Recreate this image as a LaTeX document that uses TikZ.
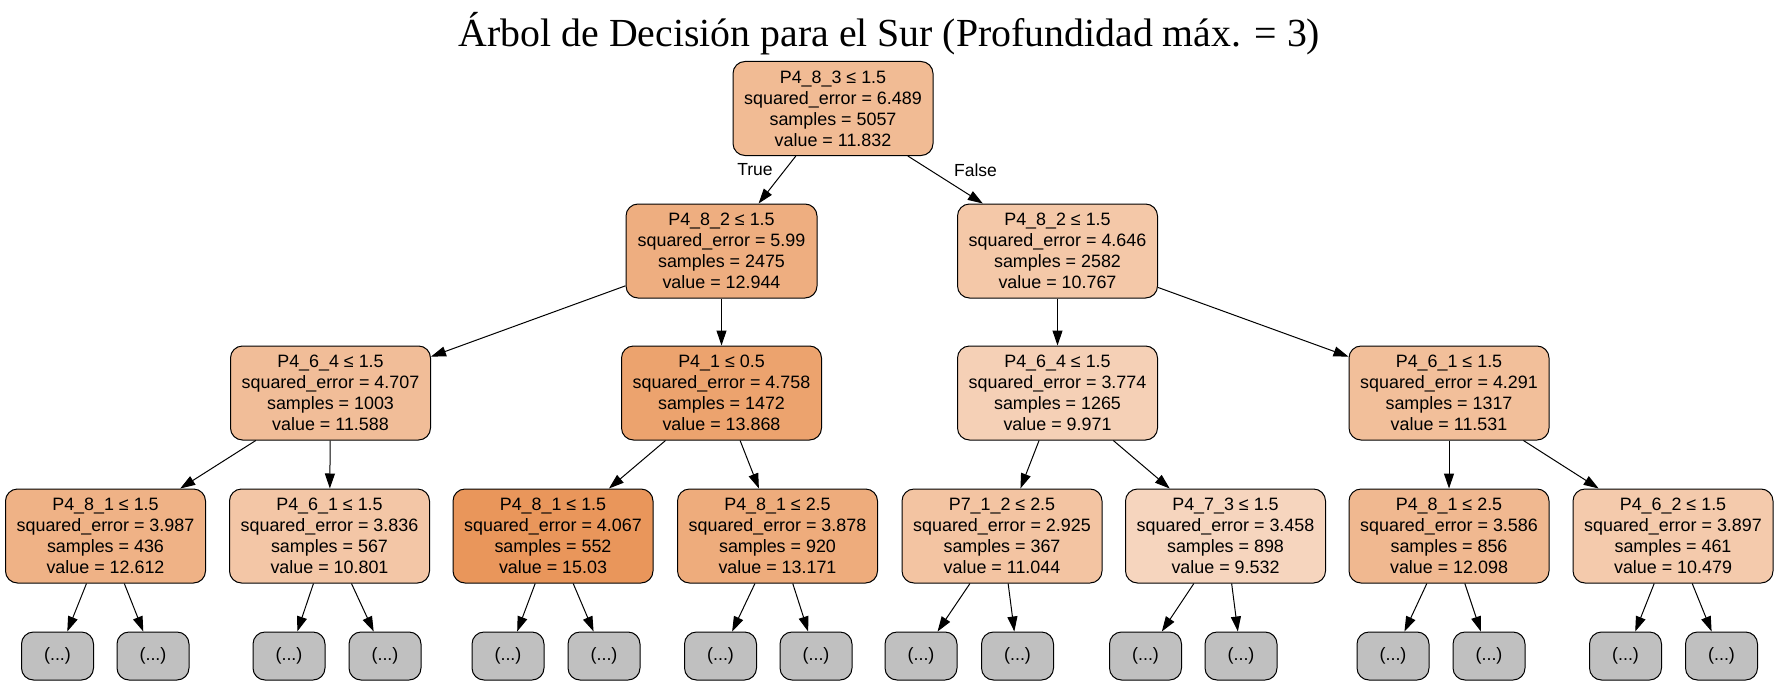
\documentclass[tikz,border=0pt]{standalone}
\usepackage{fontspec}
\setmainfont{Liberation Sans}
\newfontfamily\titlefont{Liberation Serif}
\usetikzlibrary{arrows.meta}

% node fill: base orange blended with white by the node's value
\definecolor{splitbase}{RGB}{229,129,57}
\definecolor{leafgray}{RGB}{192,192,192}

\tikzset{
  treenode/.style={draw=black, line width=1pt, rounded corners=12pt,
    minimum width=200pt, minimum height=94pt, inner sep=0pt, align=center,
    font=\fontsize{17.9}{21}\selectfont},
  leafnode/.style={draw=black, fill=leafgray, line width=1pt, rounded corners=12pt,
    minimum width=72pt, minimum height=48pt, inner sep=0pt,
    font=\fontsize{17.9}{21}\selectfont},
  branch/.style={-{Triangle[length=15pt,width=10pt]}, line width=1pt},
  edgelabel/.style={font=\fontsize{17.5}{21}\selectfont, inner sep=0pt}
}

% #1 name, #2 x, #3 y, #4 fill strength, #5 test, #6 error, #7 samples, #8 value
\newcommand\treesplit[8]{%
  \node[treenode, fill=splitbase!#4!white] (#1) at (#2,#3)
    {#5\\squared\_error = #6\\samples = #7\\value = #8};}

\begin{document}
\begin{tikzpicture}[x=1pt, y=-1pt]
\useasboundingbox (0,0) rectangle (1779,685);

\node[font=\titlefont\fontsize{39.8}{42}\selectfont, anchor=base, inner sep=0pt] (title)
  at (889.5,47) {Árbol de Decisión para el Sur (Profundidad máx. = 3)};

% depth 0
\treesplit{root}{833}{108.5}{54}{P4\_8\_3 ≤ 1.5}{6.489}{5057}{11.832}
% depth 1 (the left one has a shorter label, hence a narrower box)
\node[treenode, minimum width=191pt, fill=splitbase!64!white] (na) at (721.5,251)
  {P4\_8\_2 ≤ 1.5\\squared\_error = 5.99\\samples = 2475\\value = 12.944};
\treesplit{nb}{1057.5}{251}{44}{P4\_8\_2 ≤ 1.5}{4.646}{2582}{10.767}
% depth 2
\treesplit{naa}{330.5}{393}{52}{P4\_6\_4 ≤ 1.5}{4.707}{1003}{11.588}
\treesplit{nab}{721.5}{393}{73}{P4\_1 ≤ 0.5}{4.758}{1472}{13.868}
\treesplit{nba}{1057.5}{393}{37}{P4\_6\_4 ≤ 1.5}{3.774}{1265}{9.971}
\treesplit{nbb}{1449}{393}{51}{P4\_6\_1 ≤ 1.5}{4.291}{1317}{11.531}
% depth 3
\treesplit{d1}{105.5}{536}{61}{P4\_8\_1 ≤ 1.5}{3.987}{436}{12.612}
\treesplit{d2}{329.5}{536}{45}{P4\_6\_1 ≤ 1.5}{3.836}{567}{10.801}
\treesplit{d3}{553}{536}{83}{P4\_8\_1 ≤ 1.5}{4.067}{552}{15.03}
\treesplit{d4}{777.5}{536}{66}{P4\_8\_1 ≤ 2.5}{3.878}{920}{13.171}
\treesplit{d5}{1002}{536}{47}{P7\_1\_2 ≤ 2.5}{2.925}{367}{11.044}
\treesplit{d6}{1225.5}{536}{33}{P4\_7\_3 ≤ 1.5}{3.458}{898}{9.532}
\treesplit{d7}{1449}{536}{56}{P4\_8\_1 ≤ 2.5}{3.586}{856}{12.098}
\treesplit{d8}{1673}{536}{42}{P4\_6\_2 ≤ 1.5}{3.897}{461}{10.479}

% truncated subtrees
\foreach \i/\x in {1/57.5, 2/153, 3/289, 4/385, 5/508, 6/604, 7/720.5, 8/816,
                   9/921, 10/1017.5, 11/1145.5, 12/1241, 13/1393, 14/1489,
                   15/1625.5, 16/1721.5}
  \node[leafnode] (leaf\i) at (\x,656) {(...)};

% edges
\draw[branch] (root) -- (na);
\draw[branch] (root) -- (nb);
\draw[branch] (na) -- (naa);
\draw[branch] (na) -- (nab);
\draw[branch] (nb) -- (nba);
\draw[branch] (nb) -- (nbb);
\draw[branch] (naa) -- (d1);
\draw[branch] (naa) -- (d2);
\draw[branch] (nab) -- (d3);
\draw[branch] (nab) -- (d4);
\draw[branch] (nba) -- (d5);
\draw[branch] (nba) -- (d6);
\draw[branch] (nbb) -- (d7);
\draw[branch] (nbb) -- (d8);
\foreach \p/\a/\b in {d1/1/2, d2/3/4, d3/5/6, d4/7/8, d5/9/10, d6/11/12, d7/13/14, d8/15/16} {
  \draw[branch] (\p) -- (leaf\a);
  \draw[branch] (\p) -- (leaf\b);
}

\node[edgelabel] (lbltrue) at (755,170) {True};
\node[edgelabel] (lblfalse) at (975.5,170) {False};
\end{tikzpicture}
\end{document}
